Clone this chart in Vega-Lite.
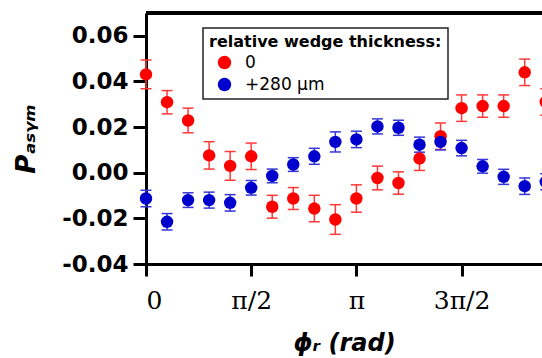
{
  "$schema": "https://vega.github.io/schema/vega-lite/v6.json",
  "width": 396,
  "height": 251,
  "autosize": {"type": "none"},
  "padding": {"left": 146, "top": 13, "right": 0, "bottom": 94},
  "background": "white",
  "config": {"view": {"stroke": null}, "font": "DejaVu Sans", "legend": {"strokeWidth": 1.5}},
  "data": {"values": [
    {"phi": 0, "value": 0.0431, "lo": 0.0368, "hi": 0.0494, "series": "0"},
    {"phi": 0.3142, "value": 0.0309, "lo": 0.0258, "hi": 0.0360, "series": "0"},
    {"phi": 0.6283, "value": 0.0229, "lo": 0.0175, "hi": 0.0283, "series": "0"},
    {"phi": 0.9425, "value": 0.0076, "lo": 0.0016, "hi": 0.0136, "series": "0"},
    {"phi": 1.2566, "value": 0.0030, "lo": -0.0033, "hi": 0.0093, "series": "0"},
    {"phi": 1.5708, "value": 0.0072, "lo": 0.0014, "hi": 0.0130, "series": "0"},
    {"phi": 1.885, "value": -0.0149, "lo": -0.0199, "hi": -0.0099, "series": "0"},
    {"phi": 2.1991, "value": -0.0113, "lo": -0.0161, "hi": -0.0065, "series": "0"},
    {"phi": 2.5133, "value": -0.0157, "lo": -0.0215, "hi": -0.0099, "series": "0"},
    {"phi": 2.8274, "value": -0.0205, "lo": -0.0270, "hi": -0.0140, "series": "0"},
    {"phi": 3.1416, "value": -0.0113, "lo": -0.0173, "hi": -0.0053, "series": "0"},
    {"phi": 3.4558, "value": -0.0023, "lo": -0.0075, "hi": 0.0029, "series": "0"},
    {"phi": 3.7699, "value": -0.0045, "lo": -0.0094, "hi": 0.0004, "series": "0"},
    {"phi": 4.0841, "value": 0.0062, "lo": 0.0010, "hi": 0.0114, "series": "0"},
    {"phi": 4.3982, "value": 0.0160, "lo": 0.0102, "hi": 0.0218, "series": "0"},
    {"phi": 4.7124, "value": 0.0283, "lo": 0.0225, "hi": 0.0341, "series": "0"},
    {"phi": 5.0265, "value": 0.0292, "lo": 0.0243, "hi": 0.0341, "series": "0"},
    {"phi": 5.3407, "value": 0.0292, "lo": 0.0243, "hi": 0.0341, "series": "0"},
    {"phi": 5.6549, "value": 0.0440, "lo": 0.0382, "hi": 0.0498, "series": "0"},
    {"phi": 5.969, "value": 0.0310, "lo": 0.0252, "hi": 0.0368, "series": "0"},
    {"phi": 0, "value": -0.0113, "lo": -0.0149, "hi": -0.0077, "series": "+280 µm"},
    {"phi": 0.3142, "value": -0.0215, "lo": -0.0251, "hi": -0.0179, "series": "+280 µm"},
    {"phi": 0.6283, "value": -0.0120, "lo": -0.0152, "hi": -0.0088, "series": "+280 µm"},
    {"phi": 0.9425, "value": -0.0120, "lo": -0.0155, "hi": -0.0085, "series": "+280 µm"},
    {"phi": 1.2566, "value": -0.0132, "lo": -0.0168, "hi": -0.0096, "series": "+280 µm"},
    {"phi": 1.5708, "value": -0.0066, "lo": -0.0098, "hi": -0.0034, "series": "+280 µm"},
    {"phi": 1.885, "value": -0.0014, "lo": -0.0044, "hi": 0.0016, "series": "+280 µm"},
    {"phi": 2.1991, "value": 0.0036, "lo": 0.0006, "hi": 0.0066, "series": "+280 µm"},
    {"phi": 2.5133, "value": 0.0072, "lo": 0.0037, "hi": 0.0107, "series": "+280 µm"},
    {"phi": 2.8274, "value": 0.0135, "lo": 0.0091, "hi": 0.0179, "series": "+280 µm"},
    {"phi": 3.1416, "value": 0.0146, "lo": 0.0110, "hi": 0.0182, "series": "+280 µm"},
    {"phi": 3.4558, "value": 0.0203, "lo": 0.0170, "hi": 0.0236, "series": "+280 µm"},
    {"phi": 3.7699, "value": 0.0197, "lo": 0.0164, "hi": 0.0230, "series": "+280 µm"},
    {"phi": 4.0841, "value": 0.0123, "lo": 0.0090, "hi": 0.0156, "series": "+280 µm"},
    {"phi": 4.3982, "value": 0.0135, "lo": 0.0100, "hi": 0.0170, "series": "+280 µm"},
    {"phi": 4.7124, "value": 0.0108, "lo": 0.0074, "hi": 0.0142, "series": "+280 µm"},
    {"phi": 5.0265, "value": 0.0028, "lo": -0.0002, "hi": 0.0058, "series": "+280 µm"},
    {"phi": 5.3407, "value": -0.0018, "lo": -0.0051, "hi": 0.0015, "series": "+280 µm"},
    {"phi": 5.6549, "value": -0.0059, "lo": -0.0095, "hi": -0.0023, "series": "+280 µm"},
    {"phi": 5.969, "value": -0.0040, "lo": -0.0075, "hi": -0.0005, "series": "+280 µm"}
  ]},
  "layer": [
    {
      "mark": {"type": "rule", "strokeWidth": 1.5},
      "encoding": {
        "x": {"field": "phi", "type": "quantitative", "title": "ϕᵣ (rad)", "scale": {"domain": [0, 5.913], "nice": false, "zero": false}},
        "y": {"field": "lo", "type": "quantitative", "title": "Pₐₛᵧₘ", "scale": {"domain": [-0.04, 0.07], "nice": false, "zero": false}},
        "y2": {"field": "hi"},
        "stroke": {"field": "series", "type": "nominal", "scale": {"domain": ["+280 µm", "0"], "range": ["#3535d8", "#ff3838"]}, "legend": null}
      }
    },
    {
      "mark": {"type": "point", "shape": "M-1,0L1,0", "filled": false, "size": 121, "strokeWidth": 1.5, "opacity": 1},
      "encoding": {
        "x": {"field": "phi", "type": "quantitative", "title": "ϕᵣ (rad)"},
        "y": {"field": "lo", "type": "quantitative", "title": "Pₐₛᵧₘ"},
        "stroke": {"field": "series", "type": "nominal", "legend": null}
      }
    },
    {
      "mark": {"type": "point", "shape": "M-1,0L1,0", "filled": false, "size": 121, "strokeWidth": 1.5, "opacity": 1},
      "encoding": {
        "x": {"field": "phi", "type": "quantitative", "title": "ϕᵣ (rad)"},
        "y": {"field": "hi", "type": "quantitative", "title": "Pₐₛᵧₘ"},
        "stroke": {"field": "series", "type": "nominal", "legend": null}
      }
    },
    {
      "mark": {"type": "point", "filled": true, "shape": "circle", "size": 155, "opacity": 1},
      "encoding": {
        "x": {"field": "phi", "type": "quantitative", "title": "ϕᵣ (rad)",
          "axis": {
            "values": [0, 1.5708, 3.1416, 4.7124],
            "labelExpr": "datum.value < 0.1 ? '0' : datum.value < 2 ? 'π/2' : datum.value < 4 ? 'π' : '3π/2'",
            "labelFont": "DejaVu Serif", "labelFontSize": 25, "labelColor": "black", "labelPadding": 12,
            "tickSize": 12, "tickWidth": 3, "tickColor": "black",
            "domainColor": "black", "domainWidth": 3, "grid": false,
            "titleFont": "DejaVu Sans", "titleFontSize": 24, "titleFontStyle": "italic", "titleFontWeight": "bold", "titleColor": "black", "titlePadding": 18
          }},
        "y": {"field": "value", "type": "quantitative", "title": "Pₐₛᵧₘ",
          "axis": {
            "values": [-0.04, -0.02, 0, 0.02, 0.04, 0.06],
            "labelExpr": "replace(format(datum.value, '.2f'), '−', '-')",
            "labelFont": "DejaVu Sans", "labelFontSize": 23, "labelFontWeight": "bold", "labelColor": "black", "labelPadding": 5,
            "tickSize": 13, "tickWidth": 3, "tickColor": "black",
            "domainColor": "black", "domainWidth": 3, "grid": false,
            "titleFont": "DejaVu Sans", "titleFontSize": 26, "titleFontStyle": "italic", "titleFontWeight": "bold", "titleColor": "black", "titlePadding": 22
          }},
        "color": {"field": "series", "type": "nominal", "title": "relative wedge thickness:",
          "scale": {"domain": ["0", "+280 µm"], "range": ["#ff0000", "#0000cc"]},
          "legend": {
            "orient": "none", "legendX": 57, "legendY": 15,
            "title": "relative wedge thickness:",
            "titleFont": "DejaVu Sans", "titleFontSize": 16, "titleFontWeight": "bold", "titleColor": "black", "titlePadding": 4, "titleLimit": 400,
            "labelFont": "DejaVu Sans", "labelFontSize": 17, "labelColor": "black",
            "strokeColor": "#222222", "fillColor": "white", "padding": 6,
            "symbolSize": 180, "symbolType": "circle", "symbolStrokeWidth": 0, "symbolOpacity": 1,
            "symbolOffset": 7, "labelOffset": 12, "rowPadding": 4
          }}
      }
    },
    {
      "mark": {"type": "rule", "strokeWidth": 3, "color": "black"},
      "encoding": {"y": {"datum": 0.07, "title": "Pₐₛᵧₘ"}}
    }
  ]
}
